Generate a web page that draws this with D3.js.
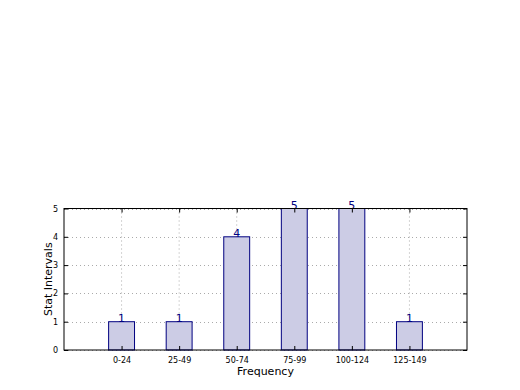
<!DOCTYPE html>
<html><head><meta charset="utf-8">
<script src="https://cdn.jsdelivr.net/npm/d3@7"></script>
<style>body{margin:0;background:#fff;}svg{display:block;font-family:"DejaVu Sans",sans-serif;}</style>
</head><body>
<svg id="c" width="520" height="390"></svg>
<script>
const categories = ["0-24","25-49","50-74","75-99","100-124","125-149"];
const values = [1,1,4,5,5,1];
const yTicks = [0,1,2,3,4,5];

const svg = d3.select("#c");
const L=64, R=467, T=208.5, B=350;
const x = d3.scaleLinear().domain([-1,6]).range([L,R]);
const y = d3.scaleLinear().domain([0,5]).range([B,T]);
const barW = 0.45;

// grid
const g = svg.append("g");
g.selectAll(".gx").data(categories).enter().append("line")
  .attr("x1",(d,i)=>x(i)).attr("x2",(d,i)=>x(i)).attr("y1",T).attr("y2",B)
  .attr("stroke","#aaa").attr("stroke-width",1).attr("stroke-dasharray","1,3");
g.selectAll(".gy").data(yTicks).enter().append("line")
  .attr("x1",L).attr("x2",R).attr("y1",d=>Math.round(y(d))+0.5).attr("y2",d=>Math.round(y(d))+0.5)
  .attr("stroke","#aaa").attr("stroke-width",1).attr("stroke-dasharray","1,3");

// bars
svg.selectAll(".bar").data(values).enter().append("rect")
  .attr("x",(d,i)=>x(i-barW/2)).attr("width",x(barW)-x(0))
  .attr("y",d=>y(d)).attr("height",d=>B-y(d))
  .attr("fill","#ccccE5").attr("stroke","#000080").attr("stroke-width",1);

// value labels
svg.selectAll(".lbl").data(values).enter().append("text")
  .attr("x",(d,i)=>x(i)).attr("y",d=>y(d))
  .attr("text-anchor","middle").attr("font-size",11).attr("fill","#000080")
  .text(d=>d);

// frame
svg.append("rect").attr("x",L).attr("y",T).attr("width",R-L).attr("height",B-T)
  .attr("fill","none").attr("stroke","#000").attr("stroke-width",1);

// axes
const xAxis = d3.axisBottom(x).tickValues(d3.range(categories.length)).tickFormat(i=>categories[i]).tickSizeInner(-4).tickSizeOuter(0).tickPadding(7);
const xa = svg.append("g").attr("transform",`translate(0,${B})`).call(xAxis);
xa.select(".domain").remove();
xa.selectAll("text").attr("font-size",8).attr("font-family","DejaVu Sans").attr("fill","#000");
const xt = d3.axisTop(x).tickValues(d3.range(categories.length)).tickFormat("").tickSizeInner(-4).tickSizeOuter(0);
svg.append("g").attr("transform",`translate(0,${T})`).call(xt).select(".domain").remove();

const yAxis = d3.axisLeft(y).tickValues(yTicks).tickFormat(d3.format("d")).tickSizeInner(-4).tickSizeOuter(0).tickPadding(6);
const ya = svg.append("g").attr("transform",`translate(${L},0)`).call(yAxis);
ya.select(".domain").remove();
ya.selectAll("text").attr("font-size",8).attr("font-family","DejaVu Sans").attr("fill","#000");
const yr = d3.axisRight(y).tickValues(yTicks).tickFormat("").tickSizeInner(-4).tickSizeOuter(0);
svg.append("g").attr("transform",`translate(${R},0)`).call(yr).select(".domain").remove();

// axis labels
svg.append("text").attr("x",(L+R)/2).attr("y",375).attr("text-anchor","middle")
  .attr("font-size",11).text("Frequency");
svg.append("text").attr("transform",`translate(52,${(T+B)/2}) rotate(-90)`).attr("text-anchor","middle")
  .attr("font-size",11).text("Stat Intervals");
</script>
</body></html>
